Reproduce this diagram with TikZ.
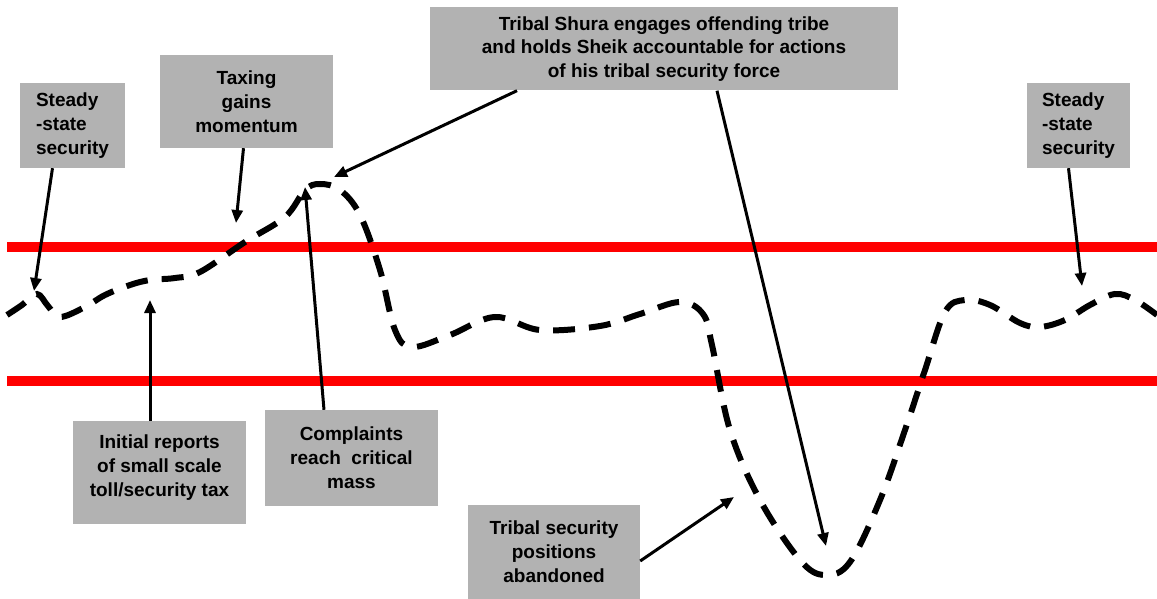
\documentclass[tikz,border=0pt]{standalone}
\usepackage{fontspec}
\setmainfont{Liberation Sans}
\usetikzlibrary{arrows.meta}
\definecolor{boxgray}{RGB}{178,178,178}
\tikzset{
  box/.style={fill=boxgray, draw=none, font=\fontsize{19}{23.8}\selectfont\bfseries, align=center, inner sep=0pt},
  ptr/.style={line width=3pt, -{Triangle[length=13pt,width=11pt]}},
  redline/.style={line width=10pt, color=red},
  trend/.style={line width=6pt, dash pattern=on 22pt off 14pt}
}
\begin{document}
\begin{tikzpicture}[x=1pt,y=-1pt]
\useasboundingbox (0,0) rectangle (1157,599);
\fill[white] (0,0) rectangle (1157,599);
% red band lines
\draw[redline] (7,247) -- (1157,247);
\draw[redline] (7,381) -- (1157,381);
% dashed trend
\draw[trend] plot[smooth, tension=0.6] coordinates {
 (7,315) (22,305) (37,294) (48,306) (60,317) (85,307) (105,295) (130,285) (150,280) (175,278) (200,272)
 (245,242) (285,217) (305,190) (320,184) (340,190) (360,215) (380,270) (395,330) (412,347)
 (450,335) (495,317) (540,330) (600,326) (640,314) (680,302) (703,314) (712,345) (730,430) (760,500)
 (800,560) (825,575) (850,562) (880,500) (905,430) (925,370) (945,312) (965,300) (990,305) (1020,323)
 (1040,327) (1065,320) (1090,305) (1115,294) (1135,300) (1157,315)};
% boxes
\node[box, minimum width=105, minimum height=85, align=left] (s1) at (72.5,125.5) {Steady\\-state\\security};
\node[box, minimum width=173, minimum height=93] (tax) at (246.5,101.5) {Taxing\\gains\\momentum};
\node[box, minimum width=468, minimum height=83] (shura) at (664,49) {Tribal Shura engages offending tribe\\and holds Sheik accountable for actions\\of his tribal security force};
\node[box, minimum width=103, minimum height=85, align=left] (s2) at (1078.5,125.5) {Steady\\-state\\security};
\node[box, minimum width=173, minimum height=103] (init) at (159.5,472.5) {Initial reports\\of small scale\\toll/security tax\\[-10pt]};
\node[box, minimum width=173, minimum height=96] (comp) at (351.5,458) {Complaints\\reach\ \ critical\\mass};
\node[box, minimum width=172, minimum height=94] (aban) at (554,552) {Tribal security\\positions\\abandoned};
% target points
\coordinate (p1) at (34,291);
\coordinate (p2) at (236,223);
\coordinate (p3) at (150,300);
\coordinate (p4) at (305,187);
\coordinate (p5) at (334,177);
\coordinate (p6) at (826,546);
\coordinate (p7) at (734,497);
\coordinate (p8) at (1082,286);
% arrows
\draw[ptr] ([xshift=-20]s1.south) -- (p1);
\draw[ptr] ([xshift=-3]tax.south) -- (p2);
\draw[ptr] ([xshift=-9.5]init.north) -- (p3);
\draw[ptr] ([xshift=-27.5]comp.north) -- (p4);
\draw[ptr] ([xshift=-147]shura.south) -- (p5);
\draw[ptr] ([xshift=53]shura.south) -- (p6);
\draw[ptr] ([yshift=-9]aban.east) -- (p7);
\draw[ptr] ([xshift=-10]s2.south) -- (p8);
\end{tikzpicture}
\end{document}
